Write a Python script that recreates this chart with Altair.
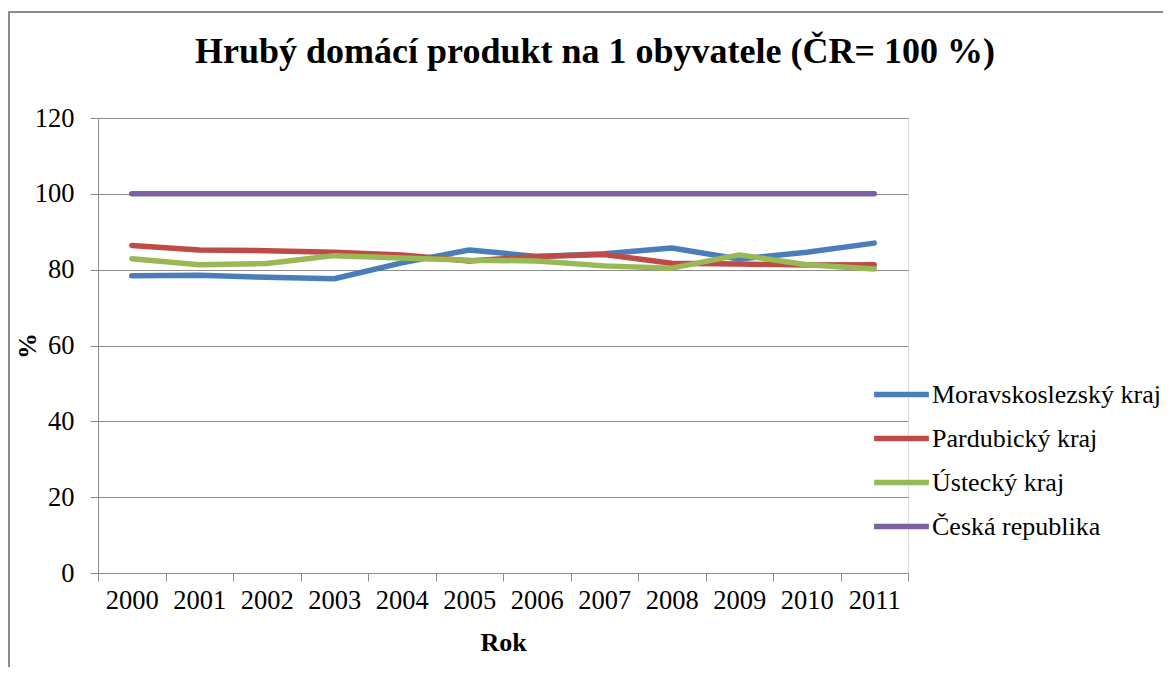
import altair as alt
import pandas as pd

years = [str(y) for y in range(2000, 2012)]
series_names = ["Moravskoslezský kraj", "Pardubický kraj", "Ústecký kraj", "Česká republika"]
moravskoslezsky = [78.4, 78.5, 78.0, 77.6, 81.8, 85.2, 83.5, 84.2, 85.7, 82.8, 84.6, 87.0]
pardubicky = [86.4, 85.2, 85.0, 84.6, 83.9, 82.3, 83.5, 84.0, 81.7, 81.5, 81.2, 81.3]
ustecky = [82.9, 81.3, 81.6, 83.7, 83.1, 82.5, 82.3, 81.0, 80.4, 83.9, 81.3, 80.2]
ceska = [100, 100, 100, 100, 100, 100, 100, 100, 100, 100, 100, 100]
colors = ["#4A7EBB", "#BE4B48", "#98B954", "#7D60A0"]

rows = []
for name, vals in zip(series_names, [moravskoslezsky, pardubicky, ustecky, ceska]):
    for y, v in zip(years, vals):
        rows.append({"Rok": y, "Hodnota": v, "Řada": name})
df = pd.DataFrame(rows)

FONT = "Liberation Serif"
FS = 26.5
W, H = 810, 455

lines = alt.Chart(df).mark_line(strokeWidth=5.5, strokeCap="round", strokeJoin="round").encode(
    x=alt.X("Rok:N", sort=years,
            scale=alt.Scale(type="band", paddingInner=0, paddingOuter=0),
            axis=alt.Axis(title="Rok", labelAngle=0, tickBand="extent", grid=False,
                          domainColor="#8c8c8c", tickColor="#8c8c8c", tickSize=8,
                          labelFont=FONT, labelFontSize=FS, labelColor="black", labelPadding=6,
                          titleFont=FONT, titleFontSize=26, titleFontWeight="bold",
                          titleColor="black", titlePadding=16)),
    y=alt.Y("Hodnota:Q", scale=alt.Scale(domain=[0, 120], nice=False),
            axis=alt.Axis(title="%", values=[0, 20, 40, 60, 80, 100, 120],
                          grid=True, gridColor="#8c8c8c", gridWidth=1,
                          domainColor="#8c8c8c", tickColor="#8c8c8c", tickSize=8,
                          labelFont=FONT, labelFontSize=FS, labelColor="black", labelPadding=16,
                          titleFont=FONT, titleFontSize=26, titleFontWeight="bold",
                          titleColor="black", titleX=-58)),
    color=alt.Color("Řada:N", sort=series_names,
                    scale=alt.Scale(domain=series_names, range=colors),
                    legend=alt.Legend(title=None, orient="none", legendX=773, legendY=246,
                                      symbolType="stroke", symbolSize=3000, symbolStrokeWidth=5.5,
                                      labelFont=FONT, labelFontSize=26, labelColor="black",
                                      labelOffset=0, rowPadding=-24, labelLimit=400)),
)

frame = alt.Chart(pd.DataFrame({"a": [0]})).mark_rect(
    fill=None, stroke="#8c8c8c", strokeWidth=2
).encode(x=alt.value(-89), x2=alt.value(1200), y=alt.value(-106), y2=alt.value(700))

chart = alt.layer(frame, lines).properties(
    width=W, height=H,
    title=alt.TitleParams("Hrubý domácí produkt na 1 obyvatele (ČR= 100 %)",
                          font=FONT, fontSize=36, fontWeight="bold", color="black",
                          anchor="middle", frame="group", baseline="alphabetic",
                          dx=92, dy=88, offset=0),
    autosize=alt.AutoSizeParams(type="none"),
    padding={"left": 90, "top": 110, "right": 255, "bottom": 94},
).configure_view(stroke=None).configure(background="white")

chart.save("out.html", embed_options={"renderer": "svg", "actions": False})
